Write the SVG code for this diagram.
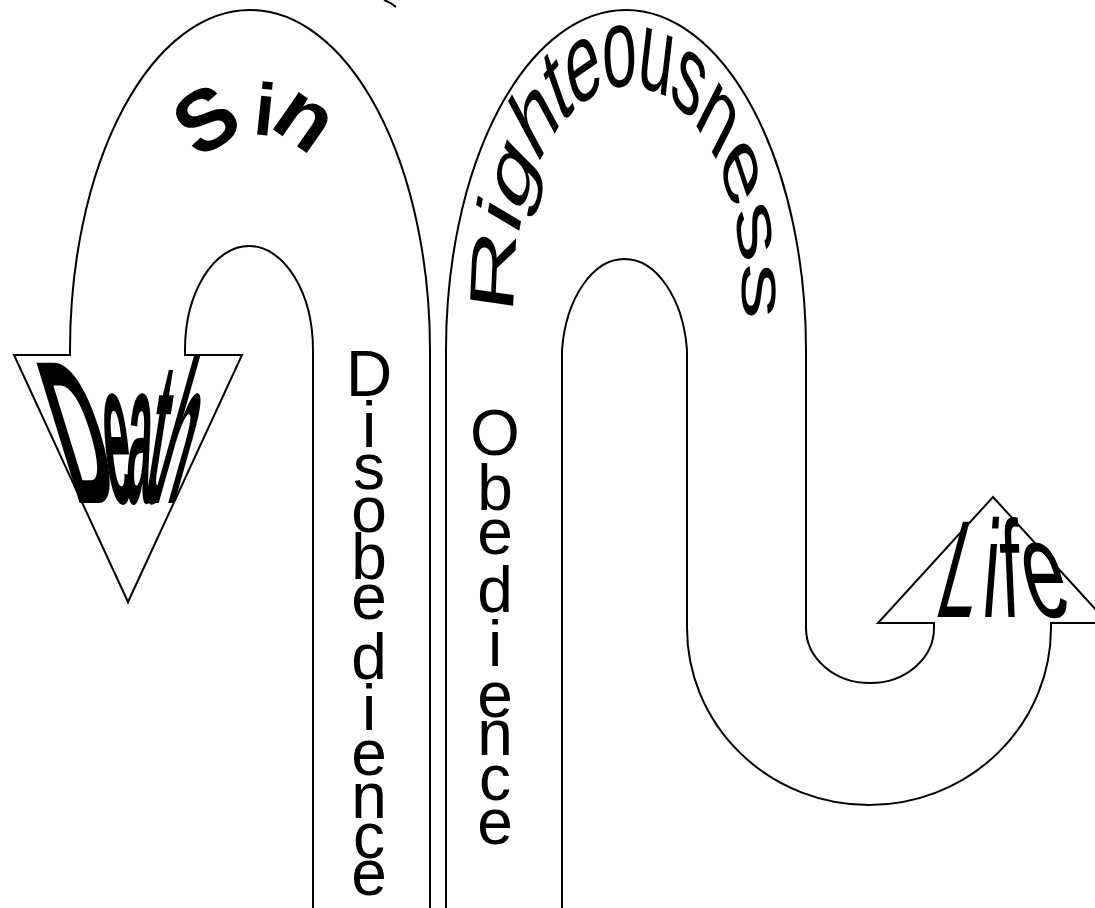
<svg xmlns="http://www.w3.org/2000/svg" xmlns:xlink="http://www.w3.org/1999/xlink" width="1095" height="908" viewBox="0 0 1095 908">
<style>
.ln{fill:none;stroke:#000;stroke-width:2;stroke-linejoin:miter}
.t{font-family:"Liberation Sans",Arial,sans-serif;fill:#000}
.col{font-size:64px;text-anchor:middle}
.warp{font-size:100px;text-anchor:middle}
.b{font-weight:bold}
</style>
<defs>
<path id="rArc" d="M-99.03,13.92 A100,100 0 1 1 99.03,13.92"/>
</defs>
<rect width="1095" height="908" fill="#fff"/>
<g id="connectors">
<g id="sin-arrow">
<path class="ln" d="M313,910 L313,350 A64,104 0 0 0 185,350 L185,355 L242,355 L128,602 L14,355 L70,355 L70,350 A180,340 0 0 1 430,350 L430,910"/>
</g>
<g id="righteousness-arrow">
<path class="ln" d="M446,910 L446,350 A180,340 0 0 1 806,350 L806,628 A64,55 0 0 0 934,628 L934,623 L878,623 L993,497 L1108,623 L1051,623 L1051,628 A182,177 0 0 1 687,628 L687,350 A63,104 0 0 0 562,350 L562,910"/>
</g>
<path class="ln" d="M384,0 Q390,2 396,7"/>
</g>
<g id="node-sin">
<text class="t b" font-size="74"><tspan x="198" y="160" rotate="-33" font-size="86">S</tspan><tspan x="252" y="134" rotate="6">i</tspan><tspan x="268" y="126" rotate="35" font-size="86">n</tspan></text>
</g>
<g id="node-righteousness">
<text class="t" font-size="55" letter-spacing="-2.2" transform="translate(628,293) scale(1.14,2.07)"><textPath href="#rArc" xlink:href="#rArc" startOffset="50%" text-anchor="middle">Righteousness</textPath></text>
</g>
<g id="node-death">
<text class="t b warp" transform="matrix(0.69 0 0.627 2.04 99.8 503)">D</text>
<text class="t b warp" transform="matrix(0.47 0 0.2 2.04 122.4 503)">e</text>
<text class="t b warp" transform="matrix(0.45 0 -0.09 2.04 137.6 503)">a</text>
<text class="t b warp" transform="matrix(0.48 0 -0.32 2.04 149.8 503)">t</text>
<text class="t b warp" transform="matrix(0.46 0 -0.575 2.04 163.3 503)">h</text>
</g>
<g id="node-life">
<text class="t warp" transform="matrix(0.72 0 -0.37 1.383 951.4 617)">L</text>
<text class="t warp" transform="matrix(0.72 0 -0.108 1.383 988.3 617)">i</text>
<text class="t warp" transform="matrix(0.72 0 0.06 1.383 1012 617)">f</text>
<text class="t warp" transform="matrix(0.76 0 0.344 1.383 1054 617)">e</text>
</g>
<g id="node-disobedience">
<text class="t col"><tspan x="369" y="396">D</tspan><tspan x="369" y="447">i</tspan><tspan x="369" y="489">s</tspan><tspan x="369" y="532">o</tspan><tspan x="369" y="579">b</tspan><tspan x="369" y="619">e</tspan><tspan x="369" y="679">d</tspan><tspan x="369" y="730">i</tspan><tspan x="369" y="775">e</tspan><tspan x="369" y="818">n</tspan><tspan x="369" y="858">c</tspan><tspan x="369" y="895">e</tspan></text>
</g>
<g id="node-obedience">
<text class="t col"><tspan x="495" y="455">O</tspan><tspan x="495" y="510">b</tspan><tspan x="495" y="554">e</tspan><tspan x="495" y="612">d</tspan><tspan x="495" y="666">i</tspan><tspan x="495" y="717">e</tspan><tspan x="495" y="755">n</tspan><tspan x="495" y="800">c</tspan><tspan x="495" y="844">e</tspan></text>
</g>
</svg>
